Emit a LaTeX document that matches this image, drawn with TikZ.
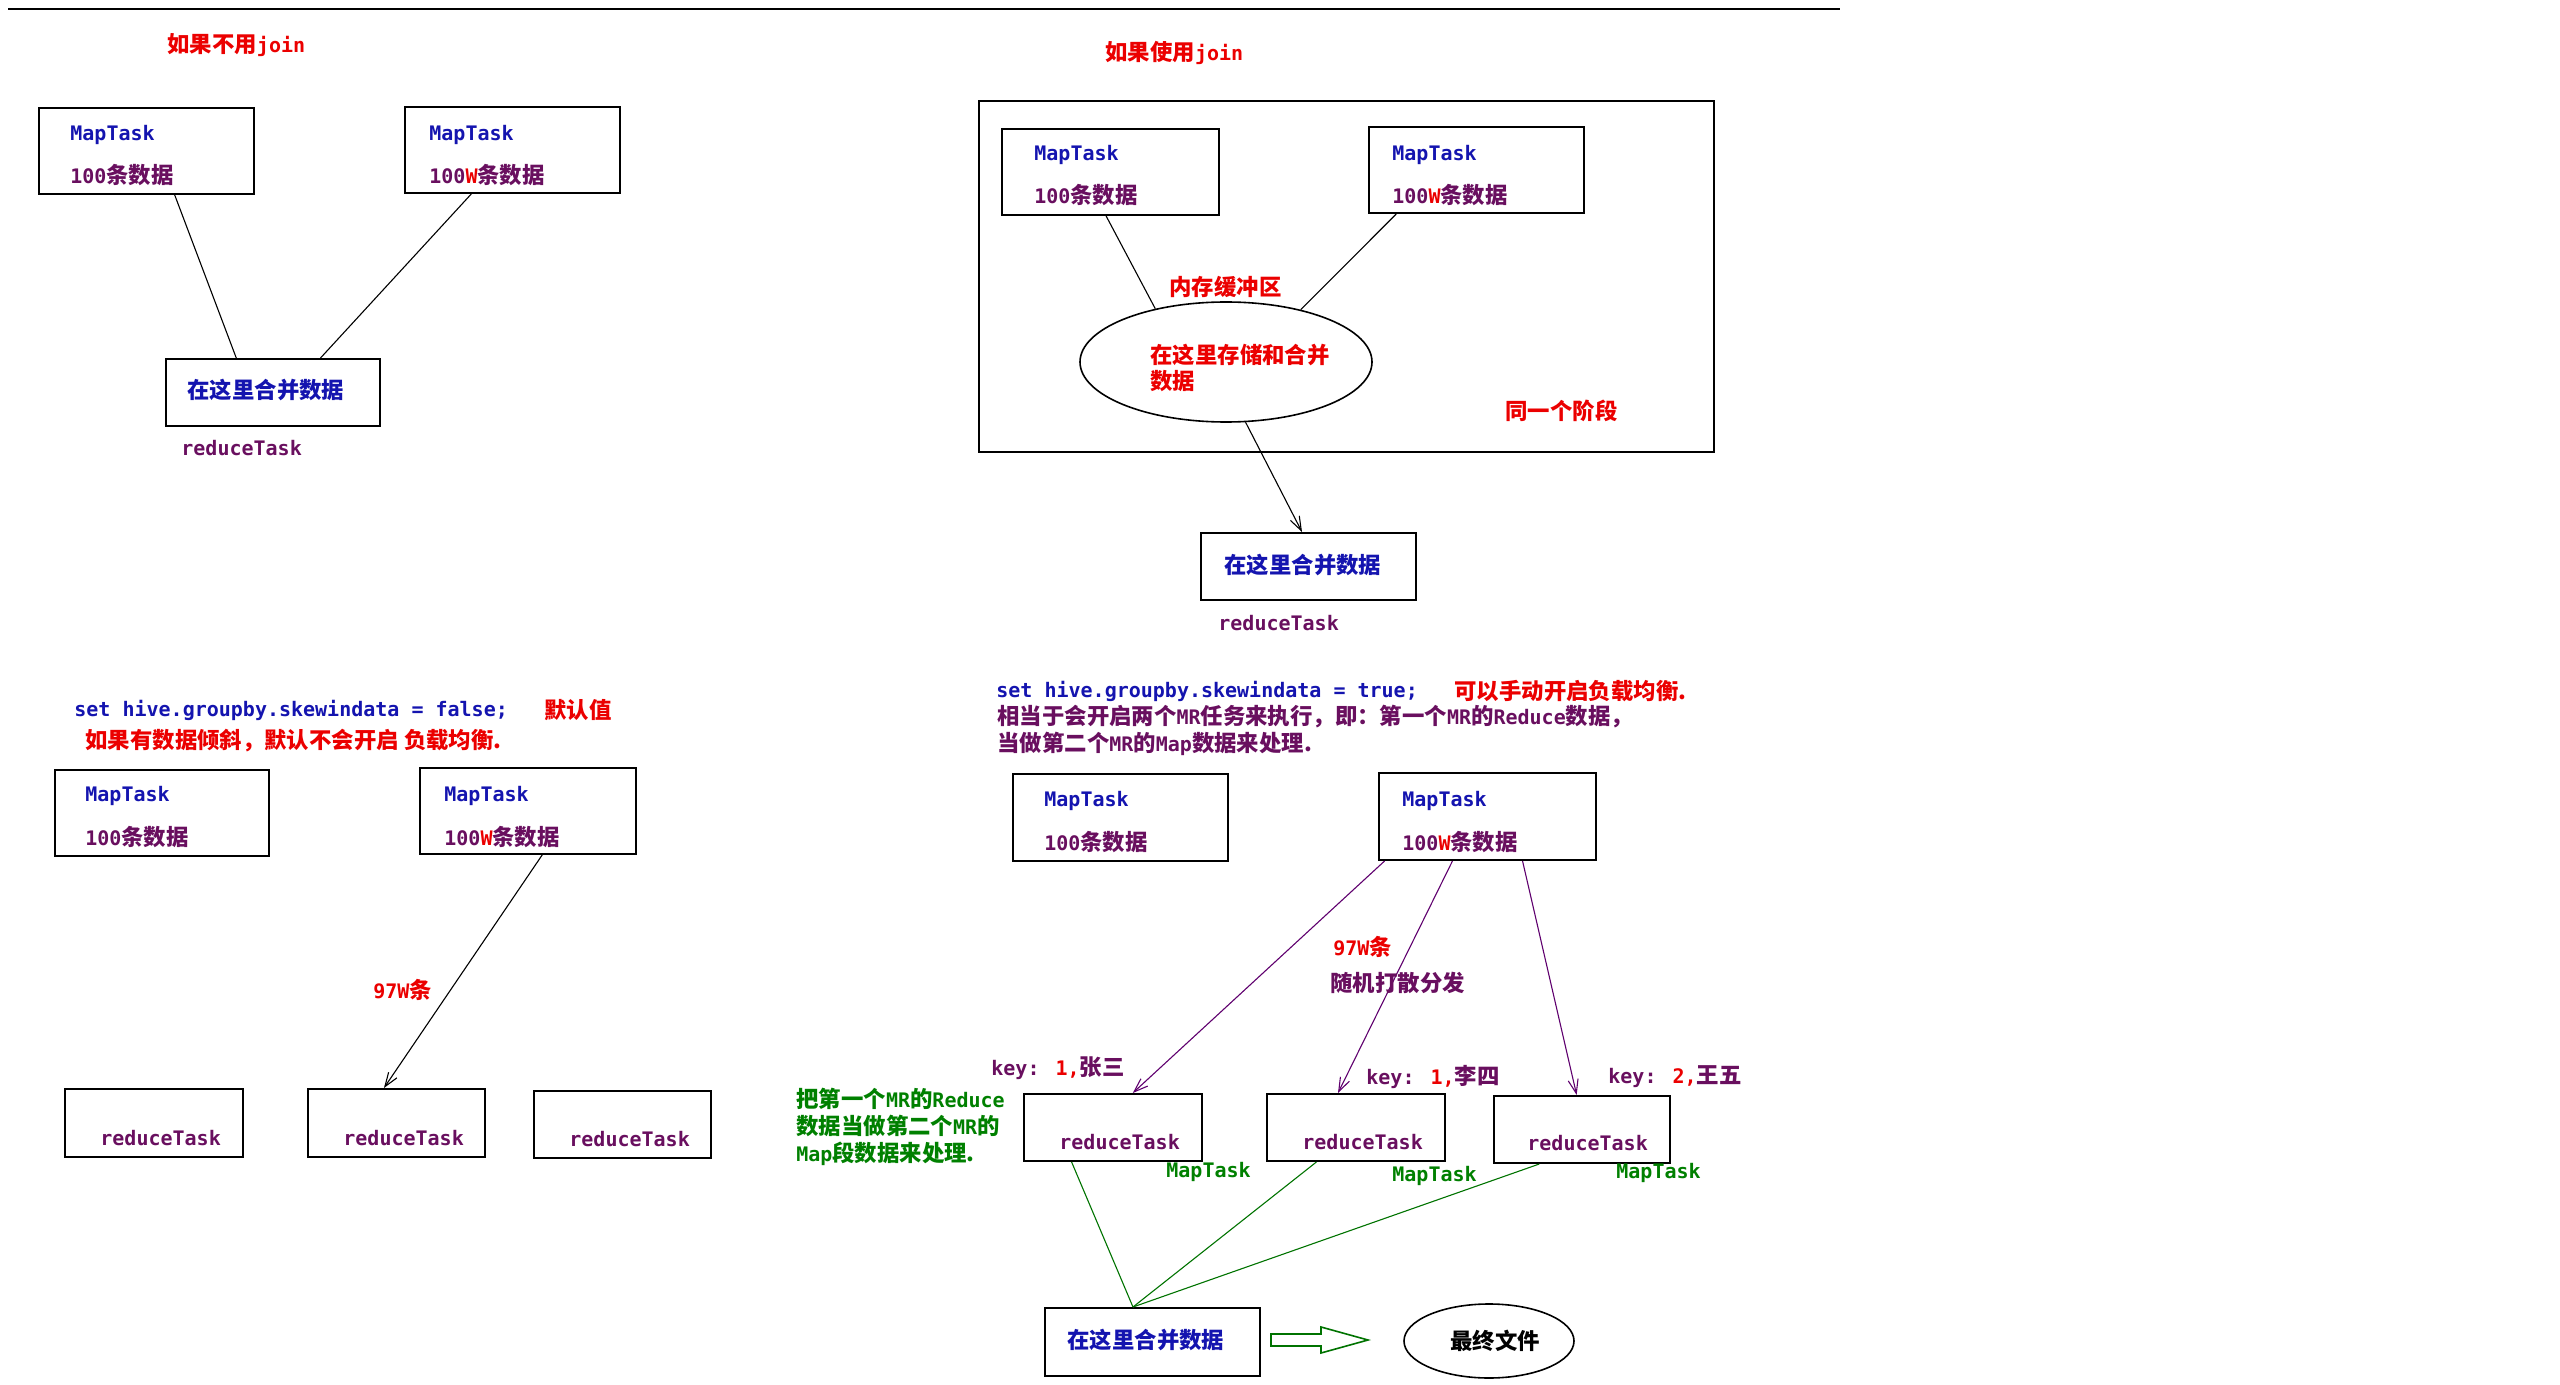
\documentclass[tikz,border=0pt]{standalone}
\usepackage{fontspec}
\setmainfont{DejaVu Sans Mono}[BoldFont={DejaVu Sans Mono Bold}]
\newfontfamily\cjk[Scale=1.12]{Noto Sans CJK SC}
\usetikzlibrary{calc,shapes.geometric,arrows.meta}
\definecolor{tblue}{RGB}{20,20,175}
\definecolor{tpurple}{RGB}{105,15,95}
\definecolor{tred}{RGB}{235,0,0}
\definecolor{tgreen}{RGB}{0,128,0}
\definecolor{lpurple}{RGB}{95,0,110}
\definecolor{lgreen}{RGB}{0,115,0}
\newcommand\zh[1]{{\cjk #1}}
\begin{document}
\begin{tikzpicture}[x=0.5pt,y=-0.5pt,
  box/.style={draw, line width=1pt, inner sep=0pt},
  oval/.style={draw, ellipse, line width=0.8pt, inner sep=0pt},
  txt/.style={anchor=west, inner sep=0pt, font=\fontsize{10pt}{12pt}\selectfont\bfseries},
  conn/.style={line width=0.55pt},
  tip/.style={-{Straight Barb[length=7pt,width=5pt]}}]
\useasboundingbox (0,0) rectangle (2560,1385);
\draw[line width=1pt] (8,9) -- (1840,9);

% ---------- section 1
\node[txt, tred] (t1) at (167,45) {\zh{如果不用}join};
\node[box, minimum width=107.5pt, minimum height=43pt] (a1) at (146.5,151) {};
\node[box, minimum width=107.5pt, minimum height=43pt] (b1) at (512.5,150) {};
\node[box, minimum width=107pt, minimum height=33.5pt] (r1) at (273,392.5) {};
\draw[conn] ($(a1.south west)!0.63!(a1.south east)$) -- ($(r1.north west)!0.33!(r1.north east)$);
\draw[conn] ($(b1.south west)!0.31!(b1.south east)$) -- ($(r1.north west)!0.72!(r1.north east)$);
\node[txt, tblue] (a1m) at (70,135) {MapTask};
\node[txt, tpurple] (a1d) at (70,175) {100\zh{条数据}};
\node[txt, tblue] (b1m) at (429,135) {MapTask};
\node[txt, tpurple] (b1d) at (429,175) {100{\color{tred}W}\zh{条数据}};
\node[txt, tblue] (r1t) at (187,390) {\zh{在这里合并数据}};
\node[txt, tpurple] (r1l) at (181,448) {reduceTask};

% ---------- section 2
\node[txt, tred] (t2) at (1105,53) {\zh{如果使用}join};
\node[box, minimum width=367.5pt, minimum height=175.5pt] (g) at (1346.5,276.5) {};
\node[box, minimum width=108.5pt, minimum height=43pt] (a2) at (1110.5,172) {};
\node[box, minimum width=107.5pt, minimum height=43pt] (b2) at (1476.5,170) {};
\node[oval, minimum width=146pt, minimum height=60pt] (e) at (1226,362) {};
\node[box, minimum width=107.5pt, minimum height=33.5pt] (r2) at (1308.5,566.5) {};
\draw[conn] ($(a2.south west)!0.48!(a2.south east)$) -- (e.143);
\draw[conn] ($(b2.south west)!0.13!(b2.south east)$) -- (e.35);
\draw[conn, tip] (e.-72) -- ($(r2.north west)!0.47!(r2.north east)$);
\node[txt, tblue] (a2m) at (1034,155) {MapTask};
\node[txt, tpurple] (a2d) at (1034,195) {100\zh{条数据}};
\node[txt, tblue] (b2m) at (1392,155) {MapTask};
\node[txt, tpurple] (b2d) at (1392,195) {100{\color{tred}W}\zh{条数据}};
\node[txt, tred] (buf) at (1169,287) {\zh{内存缓冲区}};
\node[txt, tred] (e1) at (1150,355) {\zh{在这里存储和合并}};
\node[txt, tred] (e2) at (1150,381) {\zh{数据}};
\node[txt, tred] (same) at (1505,411) {\zh{同一个阶段}};
\node[txt, tblue] (r2t) at (1224,565) {\zh{在这里合并数据}};
\node[txt, tpurple] (r2l) at (1218,623) {reduceTask};

% ---------- section 3
\node[txt, tblue] (s3a) at (74,710) {set hive.groupby.skewindata = false;};
\node[txt, tred] (s3b) at (544,710) {\zh{默认值}};
\node[txt, tred] (s3c) at (85,741) {\zh{如果有数据倾斜，默认不会开启 负载均衡.}};
\node[box, minimum width=107pt, minimum height=43pt] (a3) at (162,813) {};
\node[box, minimum width=108pt, minimum height=43pt] (b3) at (528,811) {};
\node[box, minimum width=89pt, minimum height=34pt] (r3a) at (154,1123) {};
\node[box, minimum width=88.5pt, minimum height=34pt] (r3b) at (396.5,1123) {};
\node[box, minimum width=88.5pt, minimum height=33.5pt] (r3c) at (622.5,1124.5) {};
\draw[conn, tip] ($(b3.south west)!0.565!(b3.south east)$) -- ($(r3b.north west)!0.43!(r3b.north east)$);
\node[txt, tblue] (a3m) at (85,796) {MapTask};
\node[txt, tpurple] (a3d) at (85,837) {100\zh{条数据}};
\node[txt, tblue] (b3m) at (444,796) {MapTask};
\node[txt, tpurple] (b3d) at (444,837) {100{\color{tred}W}\zh{条数据}};
\node[txt, tred] (n97a) at (373,990) {97W\zh{条}};
\node[txt, tpurple] (r3al) at (100,1138) {reduceTask};
\node[txt, tpurple] (r3bl) at (343,1138) {reduceTask};
\node[txt, tpurple] (r3cl) at (569,1139) {reduceTask};

% ---------- section 4
\node[txt, tblue] (s4a) at (996,691) {set hive.groupby.skewindata = true;};
\node[txt, tred] (s4b) at (1454,691) {\zh{可以手动开启负载均衡.}};
\node[txt, tpurple] (s4c) at (997,717) {\zh{相当于会开启两个}MR\zh{任务来执行，即：第一个}MR\zh{的}Reduce\zh{数据，}};
\node[txt, tpurple] (s4d) at (997,744) {\zh{当做第二个}MR\zh{的}Map\zh{数据来处理.}};
\node[box, minimum width=107.5pt, minimum height=43.5pt] (a4) at (1120.5,817.5) {};
\node[box, minimum width=108.5pt, minimum height=43.5pt] (b4) at (1487.5,816.5) {};
\node[box, minimum width=89pt, minimum height=33.5pt] (r4a) at (1113,1127.5) {};
\node[box, minimum width=89pt, minimum height=33.5pt] (r4b) at (1356,1127.5) {};
\node[box, minimum width=88pt, minimum height=33.5pt] (r4c) at (1582,1129.5) {};
\draw[conn, lpurple, tip] ($(b4.south west)!0.03!(b4.south east)$) -- ($(r4a.north west)!0.61!(r4a.north east)$);
\draw[conn, lpurple, tip] ($(b4.south west)!0.34!(b4.south east)$) -- ($(r4b.north west)!0.40!(r4b.north east)$);
\draw[conn, lpurple, tip] ($(b4.south west)!0.66!(b4.south east)$) -- ($(r4c.north west)!0.47!(r4c.north east)$);
\node[txt, tblue] (a4m) at (1044,801) {MapTask};
\node[txt, tpurple] (a4d) at (1044,842) {100\zh{条数据}};
\node[txt, tblue] (b4m) at (1402,801) {MapTask};
\node[txt, tpurple] (b4d) at (1402,842) {100{\color{tred}W}\zh{条数据}};
\node[txt, tred] (n97b) at (1333,947) {97W\zh{条}};
\node[txt, tpurple] (rand) at (1330,983) {\zh{随机打散分发}};
\node[txt, tpurple] (k1) at (991,1068) {key: {\color{tred}1,}\zh{张三}};
\node[txt, tpurple] (k2) at (1366,1077) {key: {\color{tred}1,}\zh{李四}};
\node[txt, tpurple] (k3) at (1608,1077) {key: {\color{tred}2,}\zh{王五}};

% ---------- section 5
\node[txt, tgreen] (g1) at (796,1099) {\zh{把第一个}MR\zh{的}Reduce};
\node[txt, tgreen] (g2) at (796,1126) {\zh{数据当做第二个}MR\zh{的}};
\node[txt, tgreen] (g3) at (796,1154) {Map\zh{段数据来处理.}};
\node[txt, tpurple] (r4al) at (1059,1142) {reduceTask};
\node[txt, tpurple] (r4bl) at (1302,1142) {reduceTask};
\node[txt, tpurple] (r4cl) at (1527,1143) {reduceTask};
\node[txt, tgreen] (m4a) at (1166,1172) {MapTask};
\node[txt, tgreen] (m4b) at (1392,1176) {MapTask};
\node[txt, tgreen] (m4c) at (1616,1173) {MapTask};
\node[box, minimum width=107.5pt, minimum height=34pt] (f) at (1152.5,1342) {};
\node[oval, minimum width=85pt, minimum height=37pt] (fe) at (1489,1341) {};
\draw[conn, lgreen] ($(r4a.south west)!0.27!(r4a.south east)$) -- ($(f.north west)!0.41!(f.north east)$);
\draw[conn, lgreen] ($(r4b.south west)!0.28!(r4b.south east)$) -- ($(f.north west)!0.41!(f.north east)$);
\draw[conn, lgreen] ($(r4c.south west)!0.26!(r4c.south east)$) -- ($(f.north west)!0.41!(f.north east)$);
\draw[lgreen, line width=0.8pt] (1271,1334) -- (1321,1334) -- (1321,1327) -- (1368,1340) -- (1321,1353) -- (1321,1346) -- (1271,1346) -- cycle;
\node[txt, tblue] (ft) at (1067,1340) {\zh{在这里合并数据}};
\node[txt, black] (fet) at (1450,1341) {\zh{最终文件}};
\end{tikzpicture}
\end{document}
